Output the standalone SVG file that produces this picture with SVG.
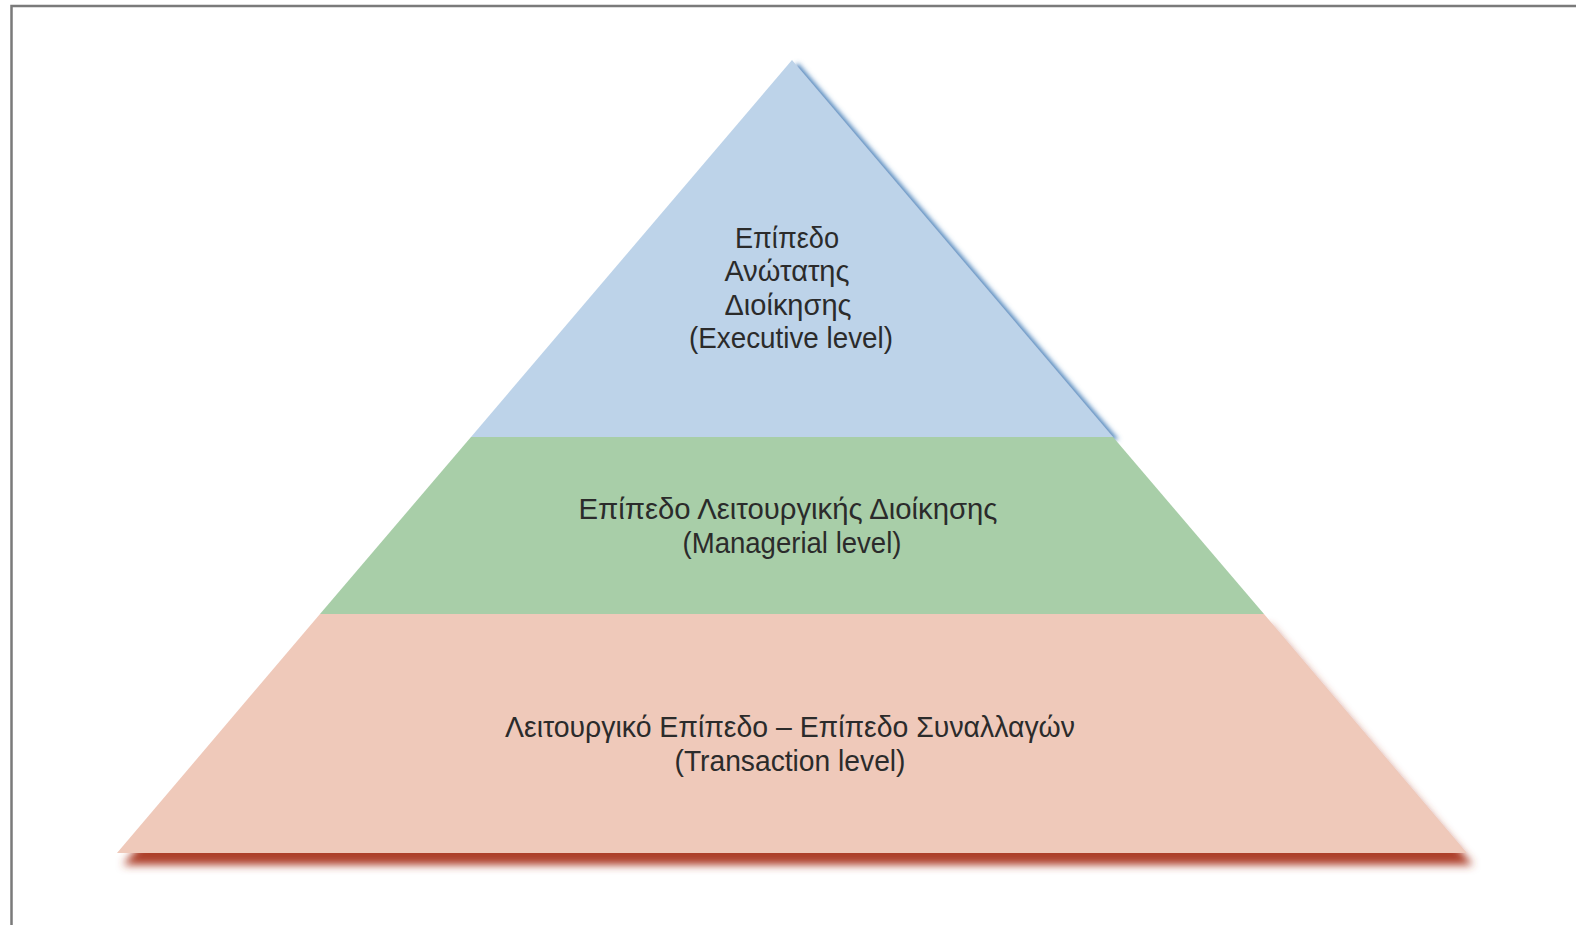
<svg xmlns="http://www.w3.org/2000/svg" width="1576" height="925" viewBox="0 0 1576 925">
  <defs>
    <filter id="shadowBlue" x="-10%" y="-10%" width="130%" height="130%">
      <feDropShadow dx="6" dy="3" stdDeviation="2.8" flood-color="#3c79b5" flood-opacity="0.9"/>
    </filter>
    <filter id="shadowRed" x="-10%" y="-10%" width="130%" height="150%">
      <feDropShadow dx="6" dy="12" stdDeviation="4" flood-color="#ad402a" flood-opacity="1"/>
    </filter>
  </defs>
  <style>
    .label { font-family: "Liberation Sans", Arial, sans-serif; font-size: 30px; fill: #2b2b2b; text-anchor: middle; }
    .frame { fill: none; stroke: #7a7a7a; stroke-width: 2.5; }
  </style>

  <rect width="1576" height="925" fill="#ffffff"/>

  <!-- page frame: top and left rules -->
  <path class="frame" d="M11.5,925 V6 H1576"/>

  <!-- bottom tier: transactions -->
  <g id="tier-transaction">
    <polygon points="320,614 1264,614 1467,853 117,853" fill="#efc9ba" filter="url(#shadowRed)"/>
    <text class="label" x="790" y="737" textLength="570" lengthAdjust="spacingAndGlyphs">Λειτουργικό Επίπεδο – Επίπεδο Συναλλαγών</text>
    <text class="label" x="790" y="771" textLength="231" lengthAdjust="spacingAndGlyphs">(Transaction level)</text>
  </g>

  <!-- top tier: executive -->
  <g id="tier-executive">
    <polygon points="792,60 1113,437 471,437" fill="#bdd3e9" filter="url(#shadowBlue)"/>
    <text class="label" x="787" y="248" textLength="104" lengthAdjust="spacingAndGlyphs">Επίπεδο</text>
    <text class="label" x="787" y="281" textLength="125" lengthAdjust="spacingAndGlyphs">Ανώτατης</text>
    <text class="label" x="788" y="315" textLength="127" lengthAdjust="spacingAndGlyphs">Διοίκησης</text>
    <text class="label" x="791" y="348" textLength="204" lengthAdjust="spacingAndGlyphs">(Executive level)</text>
  </g>

  <!-- middle tier: managerial -->
  <g id="tier-managerial">
    <polygon points="471,437 1113,437 1264,614 320,614" fill="#a8cea8"/>
    <text class="label" x="788" y="519" textLength="419" lengthAdjust="spacingAndGlyphs">Επίπεδο Λειτουργικής Διοίκησης</text>
    <text class="label" x="792" y="553" textLength="219" lengthAdjust="spacingAndGlyphs">(Managerial level)</text>
  </g>
</svg>
